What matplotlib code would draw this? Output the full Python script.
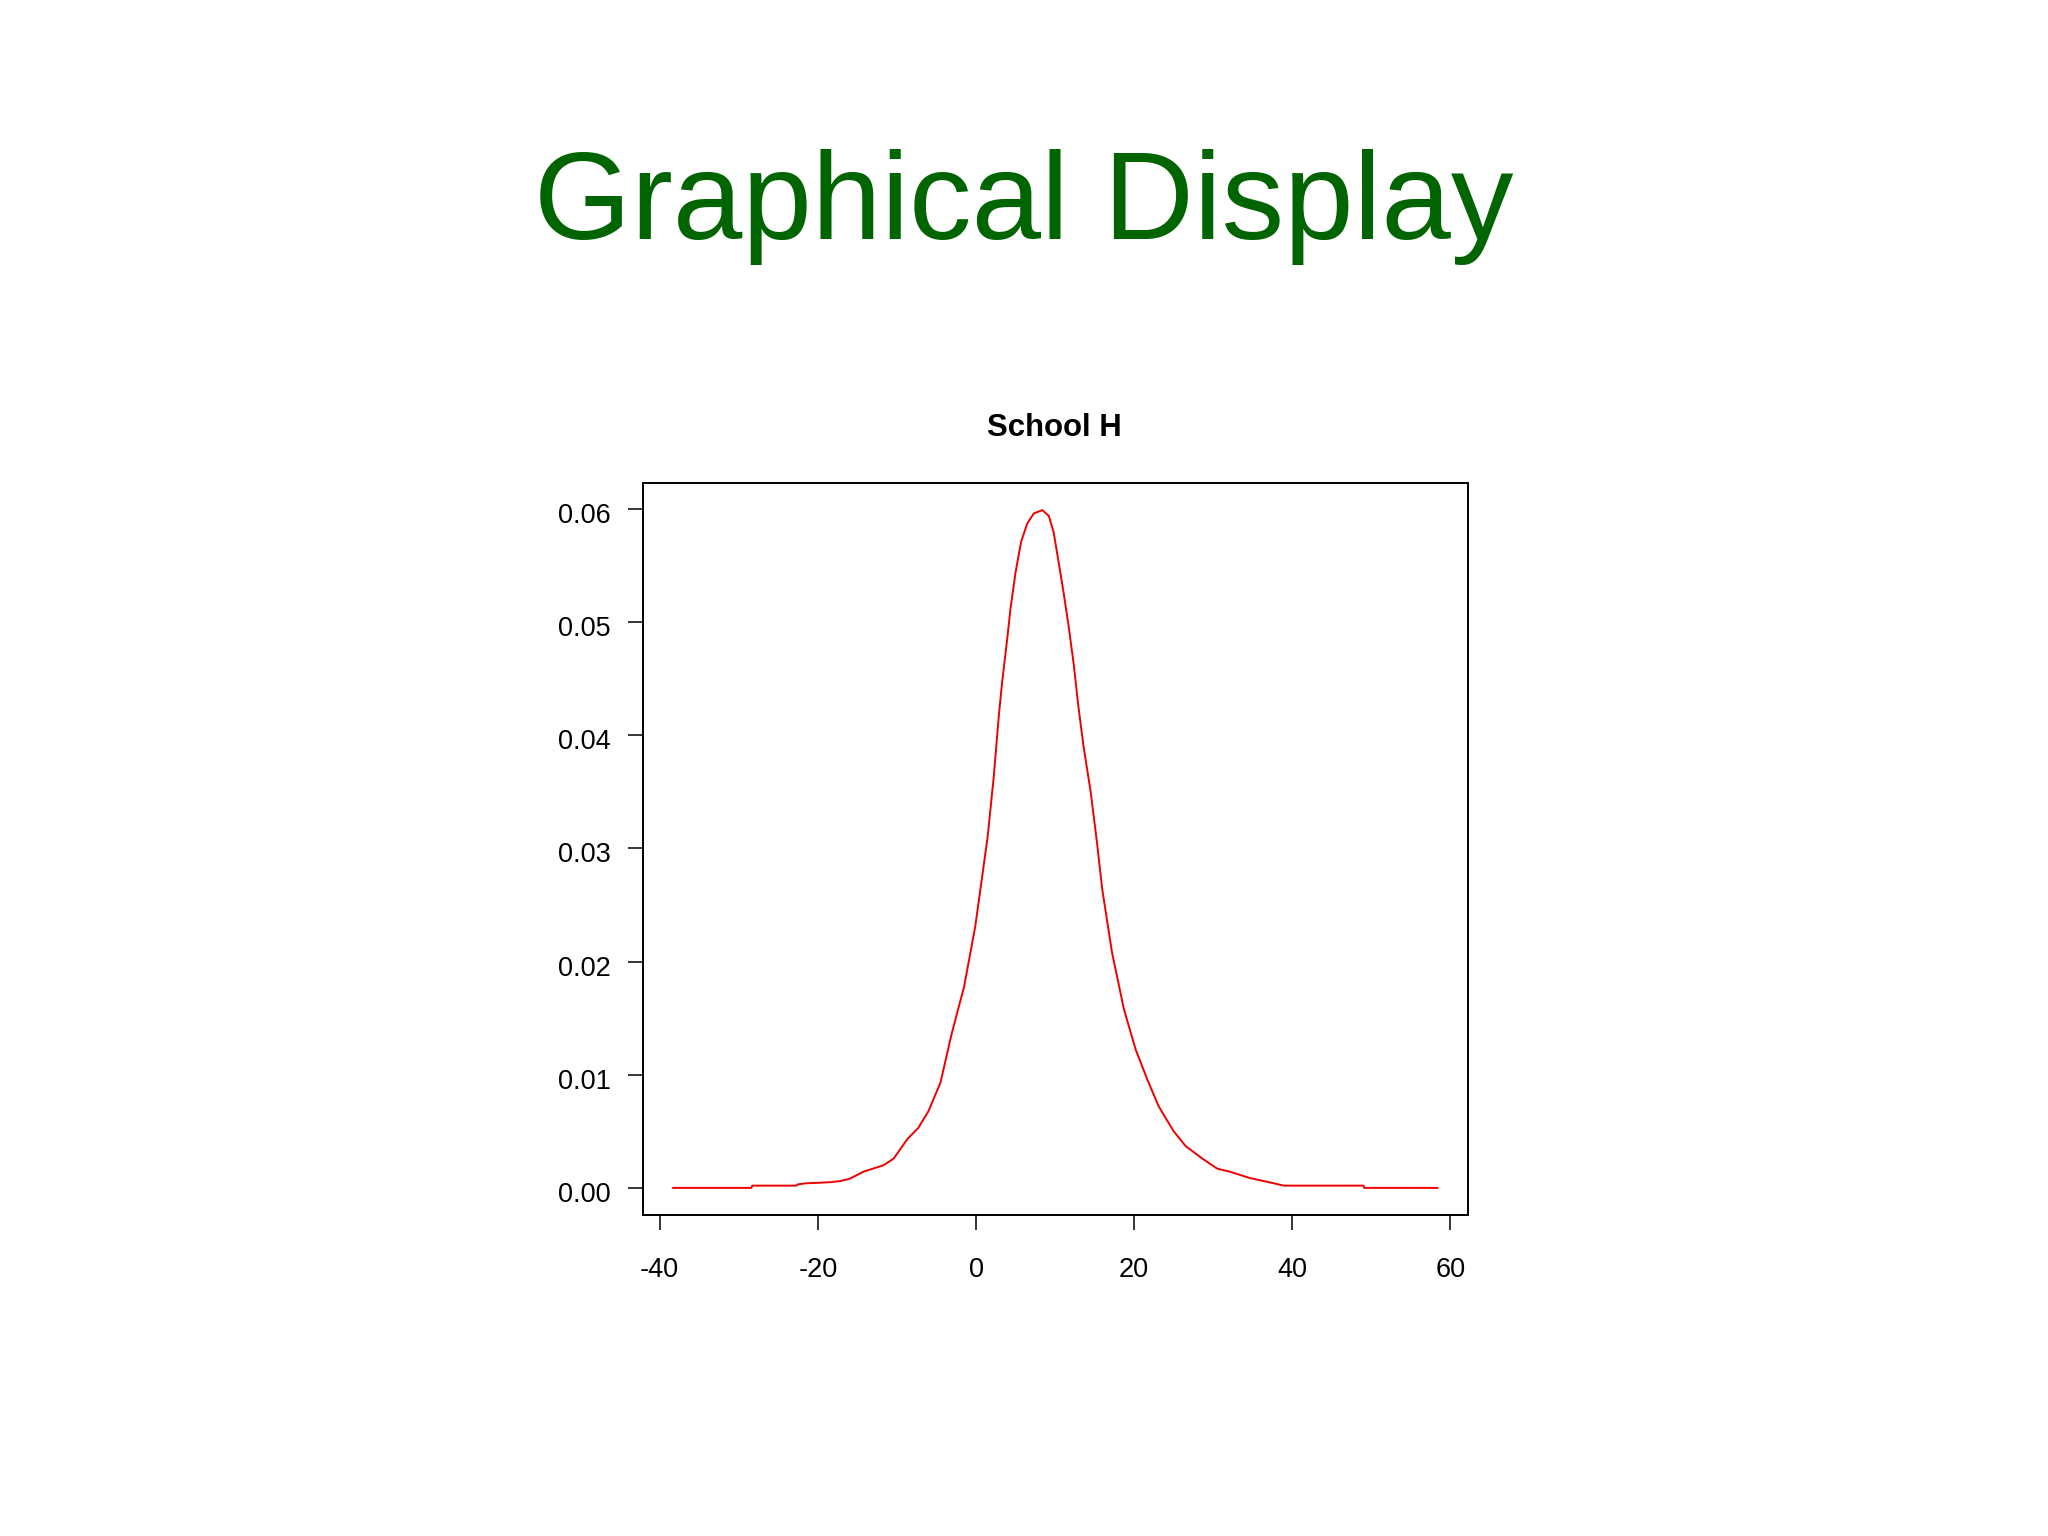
import matplotlib
matplotlib.use("Agg")
import matplotlib.pyplot as plt
import matplotlib.transforms as mtransforms

plt.rcParams['font.family'] = ['Liberation Sans', 'DejaVu Sans']

title = "Graphical Display"
subtitle = "School H"

# Density curve
x_vals = [-38.3, -28.4, -28.3, -22.7, -22.6, -21.6, -18.5, -17.2, -16.0, -14.2,
          -11.7, -10.4, -8.7, -7.3, -6.0, -4.5, -3.05, -1.5, -0.1, 0.56, 1.48,
          2.25, 2.88, 3.3, 3.94, 4.36, 5.0, 5.7, 6.47, 7.3, 8.37, 9.2, 9.8,
          10.4, 11.1, 11.7, 12.37, 12.9, 13.6, 14.5, 15.3, 15.96, 17.2, 18.7,
          20.2, 21.65, 23.1, 25.0, 26.5, 28.6, 30.5, 32.0, 34.7, 37.7, 38.9,
          49.0, 49.1, 58.35]
y_vals = [0.0, 0.0, 0.0002, 0.0002, 0.0003, 0.0004, 0.0005, 0.0006, 0.0008, 0.00144,
          0.0020, 0.0026, 0.0043, 0.0053, 0.0068, 0.0093, 0.0137, 0.0178, 0.0231,
          0.0264, 0.0311, 0.0364, 0.0417, 0.0447, 0.0485, 0.0512, 0.0544, 0.0571,
          0.0587, 0.0596, 0.0599, 0.0594, 0.0580, 0.0555, 0.0525, 0.0497, 0.0462,
          0.0428, 0.0390, 0.0350, 0.0305, 0.0264, 0.0208, 0.0158, 0.0122, 0.0096,
          0.0072, 0.0050, 0.0037, 0.0026, 0.0017, 0.00145, 0.00086, 0.0004, 0.0002,
          0.0002, 0.0, 0.0]

x_ticks = [-40, -20, 0, 20, 40, 60]
y_ticks = [0.00, 0.01, 0.02, 0.03, 0.04, 0.05, 0.06]
y_tick_labels = ["0.00", "0.01", "0.02", "0.03", "0.04", "0.05", "0.06"]

fig = plt.figure(figsize=(20.48, 15.36), dpi=100)
fig.patch.set_facecolor('white')

fig.text(0.5, 1 - 239 / 1536, title, ha='center', va='baseline',
         fontsize=90, color='#006400')

ax = fig.add_axes([642.6 / 2048, 1 - 1215 / 1536, (1468 - 642.6) / 2048, (1215 - 483) / 1536])
ax.plot(x_vals, y_vals, color='#ee0000', lw=1.4)

xmin, xmax = min(x_vals), max(x_vals)
dx = (xmax - xmin) * 0.04
ax.set_xlim(xmin - dx, xmax + dx)
ymax = max(y_vals)
dy = ymax * 0.04
ax.set_ylim(-dy, ymax + dy)

ax.set_xticks(x_ticks)
ax.set_xticklabels([str(t) for t in x_ticks])
ax.set_yticks(y_ticks)
ax.set_yticklabels(y_tick_labels)
ax.tick_params(direction='out', length=11, width=1.1, labelsize=19.5, colors='black')
ax.tick_params(axis='x', pad=19)
ax.tick_params(axis='y', pad=12)
for s in ax.spines.values():
    s.set_linewidth(1.4)
    s.set_color('black')

shift = mtransforms.ScaledTranslation(0, -4 / 100, fig.dpi_scale_trans)
for lab in ax.get_yticklabels():
    lab.set_transform(lab.get_transform() + shift)

fig.text(1054 / 2048, 1 - 428 / 1536, subtitle, ha='center', va='center',
         fontsize=22.4, fontweight='bold', color='black')

fig.savefig('out.png', dpi=100, facecolor='white')
